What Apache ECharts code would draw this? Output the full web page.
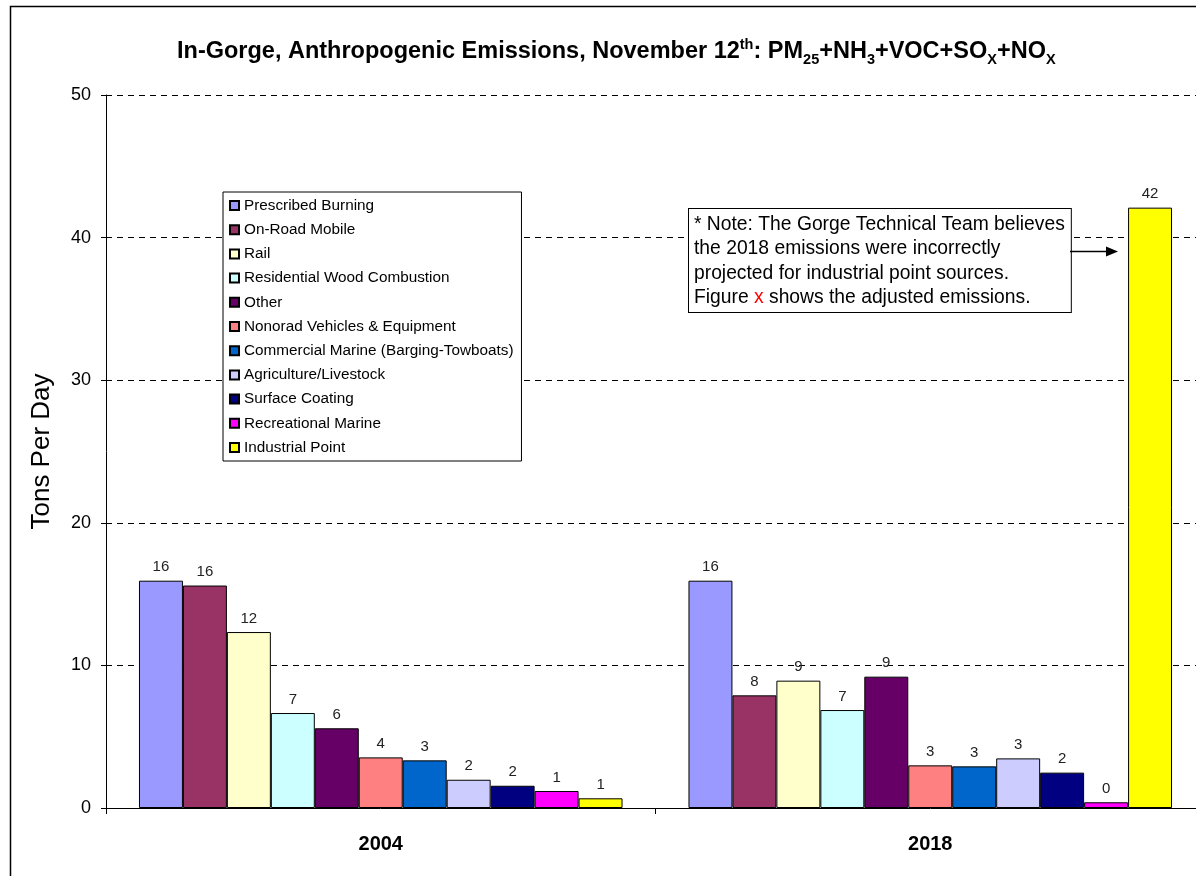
<!DOCTYPE html>
<html>
<head>
    <meta charset="UTF-8">
    <title>In-Gorge Emissions</title>
    <script src="https://cdn.jsdelivr.net/npm/echarts@6/dist/echarts.min.js"></script>
    <style>
        html, body { margin: 0; padding: 0; background: #fff; overflow: hidden; }
        /* 图表比窗口略宽，右侧被裁掉，与原图一致 */
        #main { width: 1212px; height: 876px; }
    </style>
</head>
<body>
    <div id="main"></div>
    <script type="text/javascript">
        // 年份（分类轴）
        var years = ['2004', '2018'];
        // 排放源名称
        var sources = [
            'Prescribed Burning', 'On-Road Mobile', 'Rail', 'Residential Wood Combustion',
            'Other', 'Nonorad Vehicles & Equipment', 'Commercial Marine (Barging-Towboats)',
            'Agriculture/Livestock', 'Surface Coating', 'Recreational Marine', 'Industrial Point'
        ];
        // 每个排放源的值：[2004, 2018]
        var prescribedBurning = [15.94, 15.94];
        var onRoadMobile = [15.6, 7.9];
        var rail = [12.34, 8.93];
        var residentialWood = [6.66, 6.87];
        var other = [5.59, 9.21];
        var nonroad = [3.55, 2.99];
        var commercialMarine = [3.34, 2.92];
        var agriculture = [1.98, 3.48];
        var surfaceCoating = [1.56, 2.48];
        var recreationalMarine = [1.19, 0.4];
        var industrialPoint = [0.68, 42.1];
        var yTicks = [0, 10, 20, 30, 40, 50];

        var seriesValues = [prescribedBurning, onRoadMobile, rail, residentialWood, other,
            nonroad, commercialMarine, agriculture, surfaceCoating, recreationalMarine, industrialPoint];
        // Excel 经典调色盘
        var colors = ['#9999FF', '#993366', '#FFFFCC', '#CCFFFF', '#660066', '#FF8080',
            '#0066CC', '#CCCCFF', '#000080', '#FF00FF', '#FFFF00'];

        var series = [];
        for (var i = 0; i < sources.length; i++) {
            series.push({
                name: sources[i],
                type: 'bar',
                data: seriesValues[i],
                barGap: '0%',
                barCategoryGap: '12%',
                itemStyle: { color: colors[i], borderColor: '#000', borderWidth: 1 },
                label: {
                    show: true,
                    position: 'top',
                    distance: 6,
                    color: '#222',
                    fontFamily: 'Arial, Liberation Sans',
                    fontSize: 15,
                    formatter: function (p) { return Math.round(p.value); }
                }
            });
        }

        var myChart = echarts.init(document.getElementById('main'));
        myChart.setOption({
            animation: false,
            backgroundColor: '#fff',
            color: colors,
            title: {
                text: '{a|In-Gorge, Anthropogenic Emissions, November 12}{sup|th}{a|: PM}{sub|25}{a|+NH}{sub|3}{a|+VOC+SO}{sub|X}{a|+NO}{sub|X}',
                left: 172,
                top: 32,
                textStyle: {
                    rich: {
                        a: { fontFamily: 'Arial, Liberation Sans', fontWeight: 'bold', fontSize: 23.5, color: '#000', lineHeight: 30, verticalAlign: 'middle' },
                        sup: { fontFamily: 'Arial, Liberation Sans', fontWeight: 'bold', fontSize: 14.5, color: '#000', lineHeight: 30, verticalAlign: 'top' },
                        sub: { fontFamily: 'Arial, Liberation Sans', fontWeight: 'bold', fontSize: 14.5, color: '#000', lineHeight: 30, verticalAlign: 'bottom' }
                    }
                }
            },
            legend: {
                orient: 'vertical',
                left: 223,
                top: 192,
                padding: [6, 8, 6, 6],
                itemGap: 9.2,
                itemWidth: 9,
                itemHeight: 9,
                icon: 'rect',
                borderColor: '#000',
                borderWidth: 1,
                backgroundColor: '#fff',
                textStyle: { fontFamily: 'Arial, Liberation Sans', fontSize: 15.3, color: '#000' },
                data: sources
            },
            grid: { left: 106, top: 95, right: 7, bottom: 68, containLabel: false },
            xAxis: {
                type: 'category',
                data: years,
                axisLine: { lineStyle: { color: '#000', width: 1 } },
                axisTick: { show: true, length: 6, lineStyle: { color: '#000' } },
                axisLabel: { fontFamily: 'Arial, Liberation Sans', fontWeight: 'bold', fontSize: 20, color: '#000', margin: 26 }
            },
            yAxis: {
                type: 'value',
                min: 0,
                max: 50,
                interval: 10,
                name: 'Tons Per Day',
                nameLocation: 'middle',
                nameGap: 51,
                nameTextStyle: { fontFamily: 'Arial, Liberation Sans', fontSize: 26, color: '#000' },
                axisLine: { show: true, lineStyle: { color: '#000', width: 1 } },
                axisTick: { show: true, length: 5, lineStyle: { color: '#000' } },
                axisLabel: {
                    fontFamily: 'Arial, Liberation Sans', fontSize: 18, color: '#000', margin: 15,
                    formatter: function (v) { return yTicks.indexOf(v) >= 0 ? v : ''; }
                },
                splitLine: { show: true, lineStyle: { color: '#000', type: [6, 5], width: 1 } }
            },
            graphic: [
                // 外框
                {
                    type: 'rect', silent: true, z: 100,
                    shape: { x: 10.5, y: 6.5, width: 1240, height: 900 },
                    style: { fill: 'none', stroke: '#000', lineWidth: 1.5 }
                },
                // 注释框
                {
                    type: 'text', z: 100, left: 688, top: 208,
                    style: {
                        text: '{t|* Note: The Gorge Technical Team believes}\n{t|the 2018 emissions were incorrectly}\n{t|projected for industrial point sources.}\n{t|Figure }{r|x}{t| shows the adjusted emissions.}',
                        backgroundColor: '#fff',
                        borderColor: '#000',
                        borderWidth: 1,
                        padding: [3, 6, 2, 5],
                        rich: {
                            t: { fontFamily: 'Arial, Liberation Sans', fontSize: 19.3, fill: '#000', color: '#000', lineHeight: 24.5 },
                            r: { fontFamily: 'Arial, Liberation Sans', fontSize: 19.3, fill: '#FF0000', color: '#FF0000', lineHeight: 24.5 }
                        }
                    }
                },
                // 箭头
                {
                    type: 'line', z: 100,
                    shape: { x1: 1070, y1: 251.5, x2: 1110, y2: 251.5 },
                    style: { stroke: '#000', lineWidth: 1.5 }
                },
                {
                    type: 'polygon', z: 100,
                    shape: { points: [[1118, 251.5], [1106, 246.5], [1106, 256.5]] },
                    style: { fill: '#000' }
                }
            ],
            series: series
        });
    </script>
</body>
</html>
